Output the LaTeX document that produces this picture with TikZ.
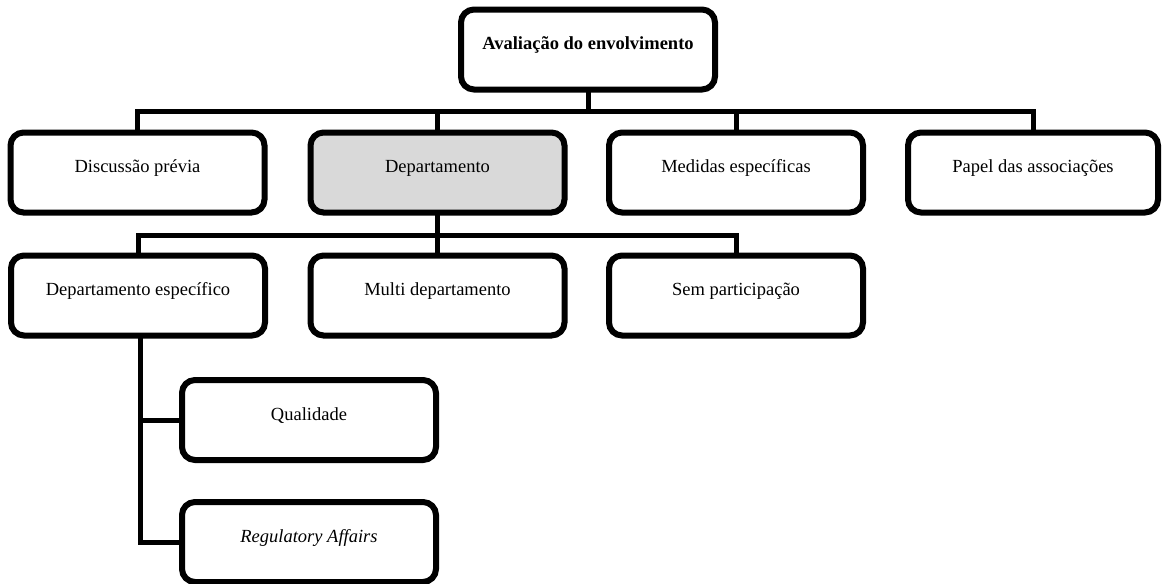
\documentclass[tikz,border=0pt]{standalone}
\usepackage{fontspec}
\setmainfont{Liberation Serif}
\begin{document}
\begin{tikzpicture}[x=1pt,y=-1pt,
  box/.style={draw=black, line width=6pt, rounded corners=13pt, fill=white,
    minimum width=254pt, minimum height=80pt, inner sep=0pt,
    text height=10pt, text depth=10pt, align=center,
    font=\fontsize{18.5}{22}\selectfont},
  selbox/.style={box, fill=black!15},
  conn/.style={draw=black, line width=5pt, line cap=rect}
]
\useasboundingbox (0,0) rectangle (1163,584);

% buses
\coordinate (busA) at (0,111);
\coordinate (busB) at (0,235);

% root
\node[box, font=\fontsize{18.5}{22}\selectfont\bfseries] (root) at (588,49.5) {Avaliação do envolvimento};

% first level
\node[box]    (disc) at (137.5,172.5) {Discussão prévia};
\node[selbox] (dept) at (437.5,172.5) {Departamento};
\node[box]    (med)  at (736,172.5)   {Medidas específicas};
\node[box, minimum width=250pt] (papel) at (1033,172.5) {Papel das associações};

% second level
\node[box] (desp)  at (138,295.5)   {Departamento específico};
\node[box] (multi) at (437.5,295.5) {Multi departamento};
\node[box] (sem)   at (736,295.5)   {Sem participação};

% third level
\node[box] (qual) at (309,420) {Qualidade};
\node[box] (reg)  at (309,542) {\itshape Regulatory Affairs};

% spine below Departamento específico
\coordinate (spine) at ([xshift=2pt]desp.south);

% connectors, root to first level
\draw[conn] (root.south) -- (root.south |- busA);
\draw[conn] (disc.north) |- (papel.north |- busA) -- (papel.north);
\draw[conn] (dept.north) -- (dept.north |- busA);
\draw[conn] (med.north) -- (med.north |- busA);

% connectors, Departamento to second level
\draw[conn] (dept.south) -- (dept.south |- busB);
\draw[conn] (desp.north) |- (sem.north |- busB) -- (sem.north);
\draw[conn] (multi.north) -- (multi.north |- busB);

% connectors, Departamento específico to third level
\draw[conn] (spine) |- (reg.west);
\draw[conn] (qual.west) -- (qual.west -| spine);
\end{tikzpicture}
\end{document}
